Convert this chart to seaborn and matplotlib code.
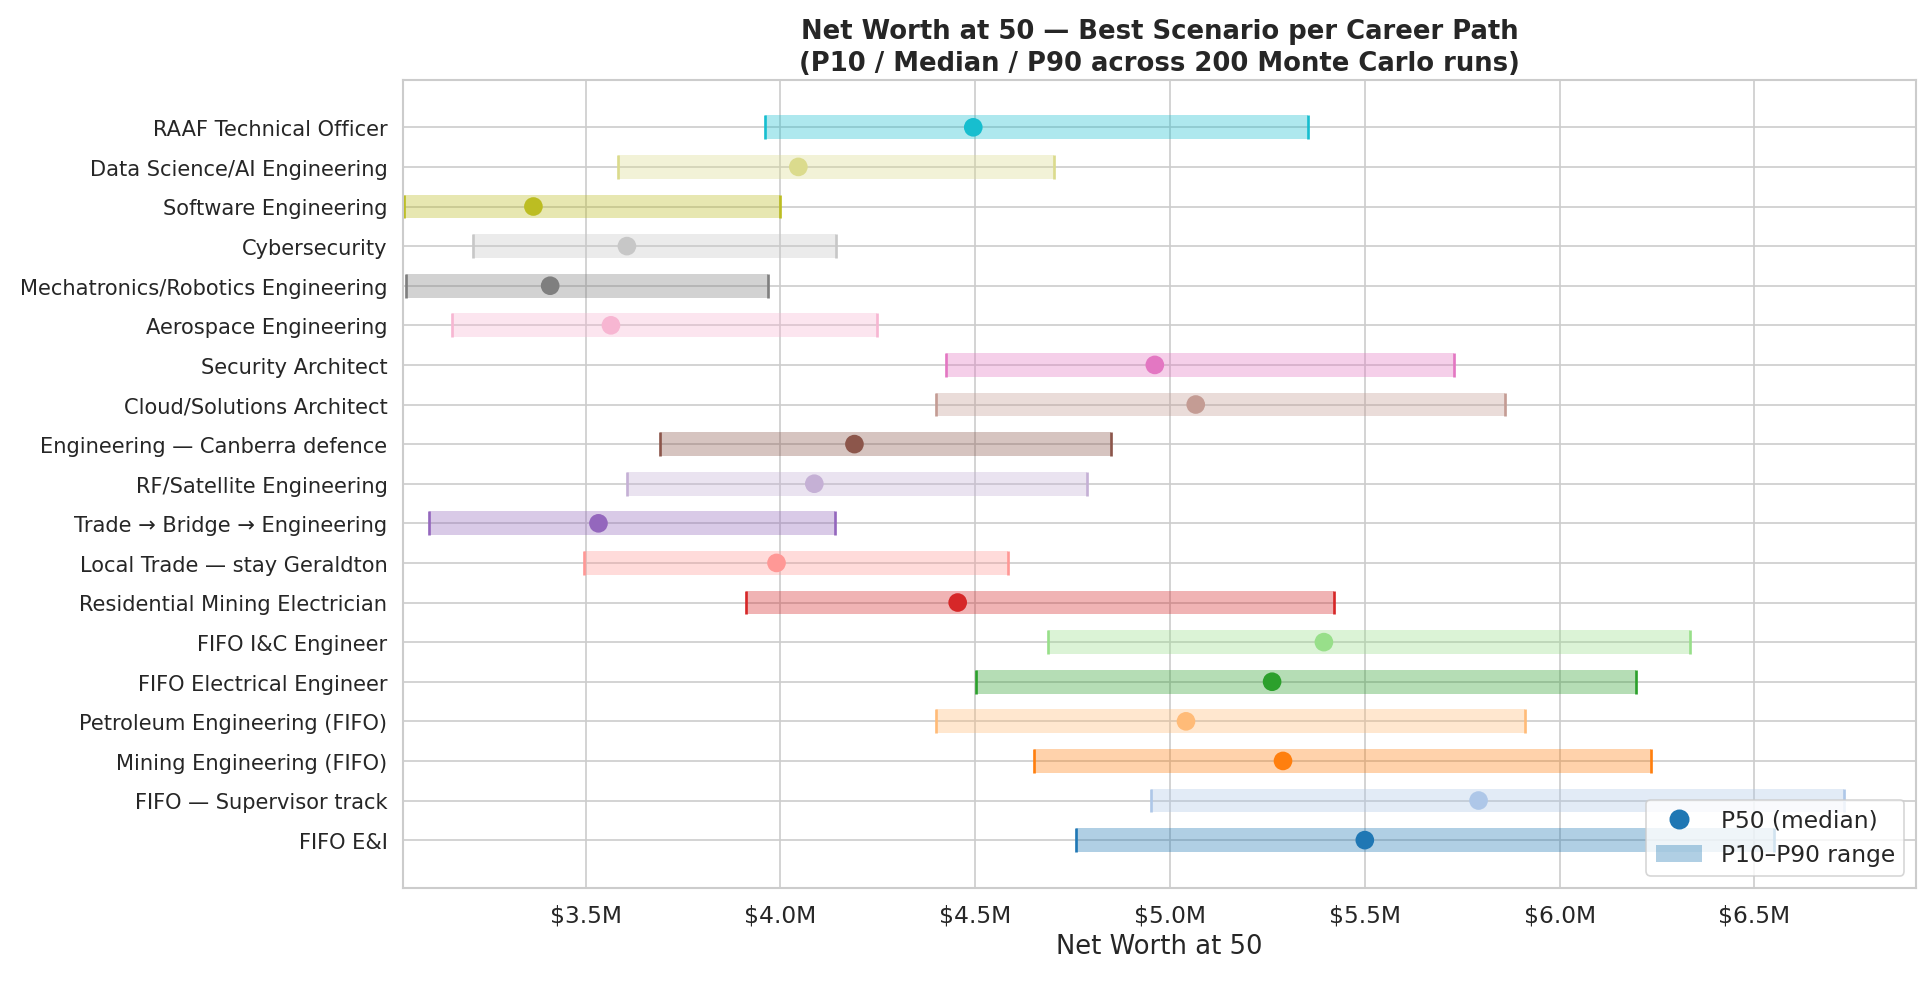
import numpy as np
import pandas as pd
import seaborn as sns
import matplotlib.pyplot as plt
from matplotlib.lines import Line2D
from matplotlib.patches import Patch
from matplotlib.ticker import FuncFormatter

# careers listed bottom -> top (same order as the tab20 colours)
careers = [
    "FIFO E&I",
    "FIFO — Supervisor track",
    "Mining Engineering (FIFO)",
    "Petroleum Engineering (FIFO)",
    "FIFO Electrical Engineer",
    "FIFO I&C Engineer",
    "Residential Mining Electrician",
    "Local Trade — stay Geraldton",
    "Trade → Bridge → Engineering",
    "RF/Satellite Engineering",
    "Engineering — Canberra defence",
    "Cloud/Solutions Architect",
    "Security Architect",
    "Aerospace Engineering",
    "Mechatronics/Robotics Engineering",
    "Cybersecurity",
    "Software Engineering",
    "Data Science/AI Engineering",
    "RAAF Technical Officer",
]

# net worth at 50, $ millions
p10 = [4.758, 4.952, 4.650, 4.400, 4.503, 4.686, 3.911, 3.496, 3.097, 3.605,
       3.690, 4.400, 4.425, 3.158, 3.040, 3.211, 3.034, 3.583, 3.960]
p50 = [5.500, 5.792, 5.290, 5.041, 5.262, 5.395, 4.455, 3.990, 3.533, 4.087,
       4.190, 5.066, 4.961, 3.565, 3.409, 3.606, 3.366, 4.046, 4.495]
p90 = [6.550, 6.729, 6.235, 5.912, 6.197, 6.335, 5.422, 4.584, 4.139, 4.788,
       4.848, 5.861, 5.730, 4.249, 3.968, 4.142, 3.999, 4.701, 5.355]

df = pd.DataFrame({'career': careers, 'p10': p10, 'p50': p50, 'p90': p90})
df['y'] = np.arange(len(df))

sns.set_theme(style='whitegrid')
colors = sns.color_palette('tab20', len(df))

fig, ax = plt.subplots(figsize=(16.08, 8.19), dpi=120)

# P10-P90 band
ax.barh(df['y'], df['p90'] - df['p10'], left=df['p10'], height=0.6,
        color=colors, alpha=0.35, linewidth=0)
# end caps
ax.vlines(df['p10'], df['y'] - 0.3, df['y'] + 0.3, colors=colors, lw=1.6)
ax.vlines(df['p90'], df['y'] - 0.3, df['y'] + 0.3, colors=colors, lw=1.6)
# medians
sns.scatterplot(data=df, x='p50', y='y', hue='career', palette=colors,
                s=125, edgecolor='none', legend=False, zorder=3, ax=ax)

ax.set_yticks(df['y'])
ax.set_yticklabels(df['career'], fontsize=12.6)
ax.set_ylim(-1.2, len(df) - 1 + 1.2)
ax.set_xlim(3.032, 6.915)
ax.xaxis.set_major_formatter(FuncFormatter(lambda x, _: f'${x:.1f}M'))
ax.tick_params(axis='x', labelsize=14)
ax.set_xlabel('Net Worth at 50', fontsize=15.5)
ax.set_ylabel('')
ax.set_title('Net Worth at 50 — Best Scenario per Career Path\n'
             '(P10 / Median / P90 across 200 Monte Carlo runs)',
             fontsize=15.5, fontweight='bold', linespacing=1.3)

handles = [
    Line2D([], [], marker='o', color=colors[0], linestyle='none', markersize=11),
    Patch(facecolor=colors[0], alpha=0.35, edgecolor='none'),
]
ax.legend(handles, ['P50 (median)', 'P10–P90 range'], loc='lower right', fontsize=14)

plt.subplots_adjust(left=0.209, right=0.993, top=0.918, bottom=0.096)
plt.savefig('out.png')
